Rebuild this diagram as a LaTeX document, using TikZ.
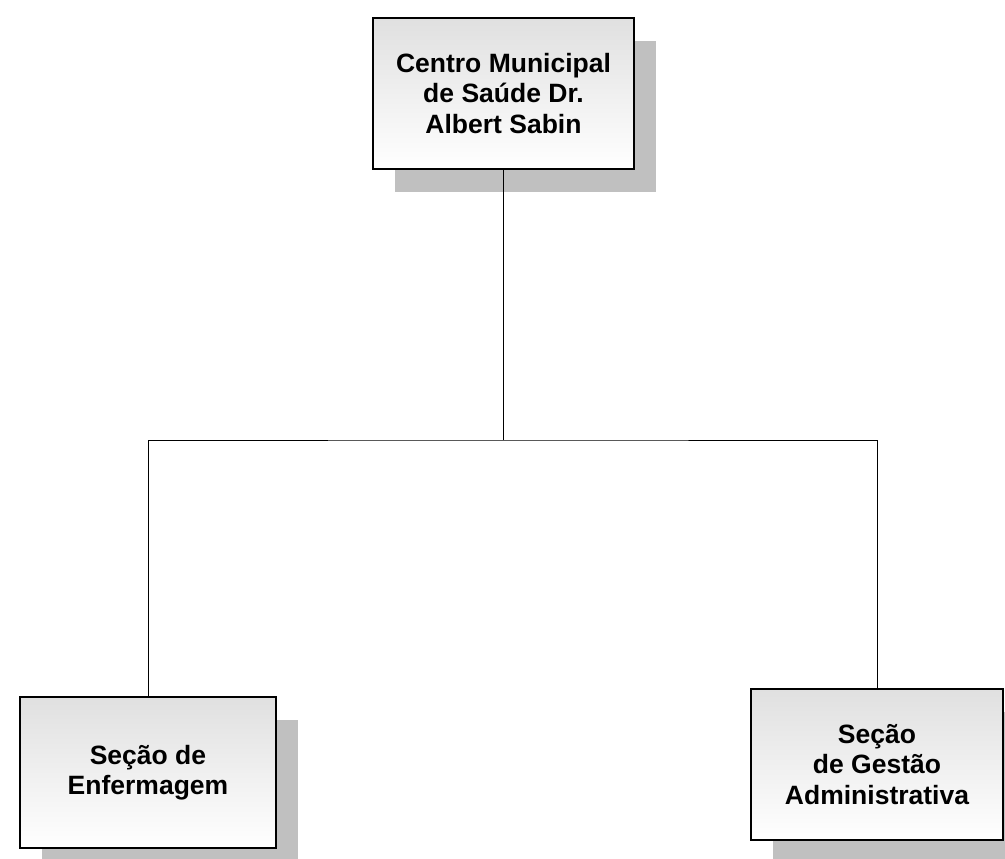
\documentclass[tikz,border=0pt]{standalone}
\usepackage{fontspec}
\setmainfont{Liberation Sans}
\usetikzlibrary{shadows}
\definecolor{shadowgray}{HTML}{C0C0C0}
\definecolor{topgray}{HTML}{E0E0E0}
\tikzset{
  unitbox/.style={draw=black, line width=2pt, rectangle, top color=topgray, bottom color=white,
    minimum height=151pt, align=center, inner sep=0pt,
    font=\fontsize{26.5}{30.5}\selectfont\bfseries,
    general shadow={fill=shadowgray, shadow xshift=22pt, shadow yshift=-23pt, draw=none}},
  link/.style={draw=black, line width=1pt}
}
\begin{document}
\begin{tikzpicture}[x=1pt,y=-1pt]
\useasboundingbox (0,0) rectangle (1005,859);
\node[unitbox, minimum width=261pt] (top) at (503.5,93.5) {Centro Municipal\\de Saúde Dr.\\Albert Sabin};
\node[unitbox, minimum width=256pt] (left) at (148,772.5) {Seção de\\Enfermagem};
\node[unitbox, minimum width=252pt] (right) at (877,764.5) {Seção\\de Gestão\\Administrativa};
\coordinate (bus) at (503.5,440);
\draw[link] (top.south) -- (bus);
\draw[link] (left.north) |- (bus) -| (right.north);
\end{tikzpicture}
\end{document}
